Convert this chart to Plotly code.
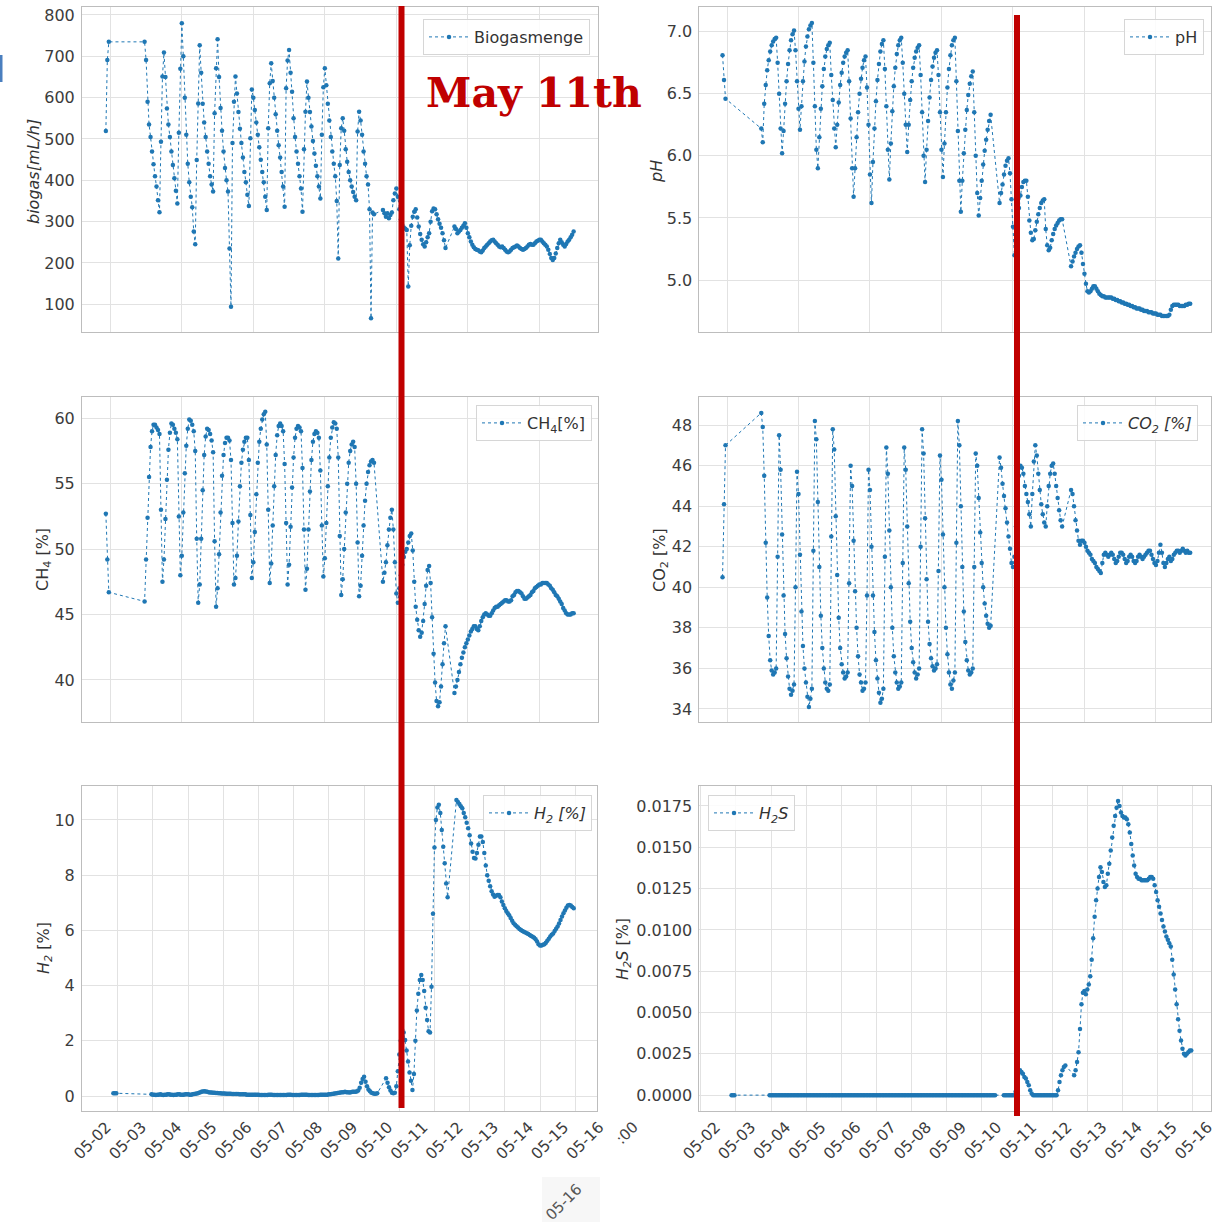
import pandas as pd
import plotly.graph_objects as go

# ---------------------------------------------------------------------------
# Hourly reactor log, first sample 2021-05-02 21:00 (None = no sample logged)
# ---------------------------------------------------------------------------
FIRST_SAMPLE = "2021-05-02 21:00"

biogas = (
    [519, 691, 735] + [None] * 23 +
    [735, 691, 590, 535, 505, 470, 439, 410, 385, 352, 323] +
    [493, 651, 709, 650, 574, 535, 505, 470, 437, 405, 375, 344] +
    [515, 670, 780, 700, 600, 510, 440, 395, 360, 335, 276, 245] +
    [449, 586, 727, 660, 585, 540, 505, 470, 440, 410, 390, 373] +
    [562, 671, 741, 650, 575, 520, 470, 430, 400, 373, 235, 94] +
    [490, 590, 651, 610, 565, 525, 490, 455, 420, 395, 365, 338] +
    [502, 620, 600, 570, 540, 510, 480, 450, 420, 395, 360, 328] +
    [526, 635, 683, 640, 600, 560, 520, 485, 455, 420, 385, 336] +
    [623, 690, 715, 660, 614, 550, 505, 470, 440, 410, 380, 324] +
    [475, 566, 639, 600, 565, 530, 495, 465, 435, 410, 385, 356] +
    [510, 625, 671, 630, 585, 545, 505, 470, 440, 410, 350, 211] +
    [437, 526, 550, 520, 475, 445, 420, 400, 385, 372, 360, 352] +
    [518, 566, 545, 510, 470, 440, 410, 390, 330, 66, 322, 318] +
    [None] * 5 +
    [328, 320, 312, 320, 308, 316, 322] +
    [352, 368, 380, 360, 330, 305, 292, 286, 283, 280, 143, 243, 290] +
    [312, 324, 330, 310, 288, 270, 256, 245, 240, 250,
     262, 272, 300, 325, 332, 330, 318, 306, 295, 285,
     272, 255, 236] +
    [None] * 5 +
    [288, 282, 272, 276, 280, 285, 290, 296, 285, 272,
     262, 252, 244, 238, 234, 232, 231] +
    [228, 226, 230, 236, 240, 244, 248, 252, 255, 256,
     252, 248, 244, 240, 238, 240, 236, 232, 228, 226,
     228, 232, 236, 238, 240, 242, 240, 236, 234, 232,
     234, 236, 240, 244, 246, 244, 244, 248, 252, 254,
     256, 256, 252, 248, 244, 240, 232, 222, 212, 207,
     212, 223, 236, 248, 256, 250, 244, 240, 246, 252,
     256, 262, 268, 276]
)

ph = (
    [6.81, 6.61, 6.46] + [None] * 23 +
    [6.22, 6.11, 6.42, 6.57, 6.69, 6.77, 6.84, 6.89, 6.92, 6.94, 6.95] +
    [6.75, 6.50, 6.22, 6.02, 6.20, 6.42, 6.60, 6.74, 6.85, 6.93, 6.98, 7.01] +
    [6.85, 6.60, 6.38, 6.21, 6.40, 6.60, 6.76, 6.88, 6.96, 7.02, 7.05, 7.07] +
    [6.75, 6.40, 6.05, 5.90, 6.15, 6.38, 6.56, 6.70, 6.80, 6.86, 6.89, 6.91] +
    [6.65, 6.45, 6.22, 6.07, 6.25, 6.43, 6.57, 6.67, 6.75, 6.80, 6.83, 6.85] +
    [6.60, 6.30, 5.90, 5.67, 5.90, 6.15, 6.35, 6.50, 6.62, 6.71, 6.77, 6.80] +
    [6.55, 6.25, 5.85, 5.62, 5.95, 6.22, 6.44, 6.61, 6.74, 6.84, 6.90, 6.93] +
    [6.70, 6.40, 6.05, 5.81, 6.10, 6.36, 6.56, 6.71, 6.82, 6.89, 6.93, 6.95] +
    [6.75, 6.50, 6.25, 6.03, 6.25, 6.45, 6.60, 6.71, 6.79, 6.84, 6.87, 6.89] +
    [6.65, 6.35, 6.00, 5.79, 6.05, 6.28, 6.47, 6.61, 6.72, 6.79, 6.83, 6.85] +
    [6.65, 6.35, 6.05, 5.83, 6.10, 6.35, 6.55, 6.70, 6.81, 6.89, 6.93, 6.95] +
    [6.60, 6.20, 5.80, 5.55, 5.80, 6.02, 6.21, 6.37, 6.49, 6.58, 6.64, 6.68] +
    [6.35, 6.00, 5.70, 5.52, 5.66, 5.80, 5.93, 6.04, 6.13, 6.21, 6.28, 6.33] +
    [None] * 5 +
    [5.62, 5.70, 5.77, 5.85, 5.92, 5.96, 5.98] +
    [5.86, 5.65, 5.43, 5.20] +
    [5.30, 5.45, 5.58, 5.68, 5.75, 5.79, 5.80] +
    [5.80, 5.67, 5.48, 5.38, 5.32, 5.33, 5.40, 5.47, 5.53, 5.58, 5.62, 5.64, 5.65] +
    [5.41, 5.28, 5.24, 5.26, 5.32, 5.37, 5.41, 5.44, 5.46, 5.48, 5.49, 5.49] +
    [None] * 5 +
    [5.11, 5.15, 5.19, 5.22, 5.25, 5.27, 5.28] +
    [5.22, 5.13, 5.05, 4.97, 4.91, 4.90, 4.91, 4.93, 4.95, 4.95,
     4.93, 4.91, 4.89, 4.88, 4.87, 4.87, 4.86, 4.86, 4.86, 4.86,
     4.86, 4.85, 4.85, 4.84, 4.84, 4.83, 4.83, 4.82, 4.82, 4.81,
     4.81, 4.80, 4.80, 4.79, 4.79, 4.78, 4.78, 4.77, 4.77, 4.77,
     4.76, 4.76, 4.75, 4.75, 4.75, 4.74, 4.74, 4.74, 4.73, 4.73,
     4.73, 4.72, 4.72, 4.72, 4.71, 4.71, 4.71, 4.71, 4.71, 4.72,
     4.76, 4.79, 4.80, 4.80, 4.80, 4.80, 4.79, 4.79, 4.79, 4.79,
     4.80, 4.80, 4.81, 4.81]
)

ch4 = (
    [52.7, 49.2, 46.7] + [None] * 23 +
    [46.0, 49.2, 52.4, 55.5, 57.8, 59.0, 59.5, 59.5, 59.3, 59.1, 58.8] +
    [53.0, 47.5, 49.2, 52.3, 55.3, 57.6, 58.9, 59.6, 59.5, 59.2, 58.9, 58.4] +
    [52.5, 48.0, 49.5, 52.8, 55.8, 57.9, 59.2, 59.9, 59.8, 59.5, 59.0, 57.5] +
    [50.8, 45.9, 47.3, 50.8, 54.5, 57.2, 58.6, 59.2, 59.1, 58.8, 58.3, 57.4] +
    [50.6, 45.6, 47.0, 49.6, 52.8, 55.6, 57.2, 58.1, 58.5, 58.5, 58.3, 56.8] +
    [52.0, 47.3, 47.8, 49.5, 52.1, 54.8, 56.6, 57.6, 58.2, 58.5, 58.5, 56.8] +
    [52.6, 47.8, 49.0, 51.3, 54.2, 56.6, 58.2, 59.2, 59.9, 60.3, 60.5, 58.0] +
    [53.0, 47.4, 48.9, 51.8, 54.8, 57.2, 58.7, 59.4, 59.6, 59.4, 59.0, 56.5] +
    [52.0, 47.3, 48.8, 51.7, 54.7, 57.0, 58.5, 59.2, 59.4, 59.3, 59.0, 56.2] +
    [51.5, 46.9, 48.5, 51.5, 54.4, 56.8, 58.2, 58.8, 59.0, 58.9, 58.5, 56.0] +
    [51.8, 47.9, 49.3, 52.0, 54.8, 57.0, 58.5, 59.3, 59.7, 59.6, 59.2, 57.0] +
    [51.0, 46.5, 47.7, 50.0, 52.8, 55.0, 56.6, 57.5, 58.0, 58.2, 57.8, 55.0] +
    [50.5, 46.4, 47.2, 49.5, 51.8, 53.7, 55.0, 55.9, 56.4, 56.7, 56.8, 56.6] +
    [None] * 5 +
    [47.5, 48.2, 49.0, 50.3, 51.5, 52.4, 53.0] +
    [51.5, 49.0, 46.6, 45.9] +
    [47.0, 48.0, 48.8, 49.4, 49.8, 50.0, 50.5, 51.0, 51.2] +
    [49.9, 47.5, 45.6, 44.6, 43.8, 43.3, 43.6, 44.5, 45.8, 47.2,
     48.4, 48.7, 47.4, 44.8, 42.0, 39.8, 38.4, 38.0, 38.3, 39.5,
     41.2, 42.8, 44.1] +
    [None] * 5 +
    [39.0, 39.5, 40.0, 40.6, 41.2, 41.7, 42.1, 42.5, 42.8, 43.1,
     43.4, 43.7, 43.9, 44.1, 44.1, 43.9, 43.8, 44.1, 44.5, 44.8,
     45.0, 45.1, 45.0, 44.9, 44.9, 45.1, 45.3, 45.5, 45.6, 45.6,
     45.7, 45.8, 45.9, 46.0, 46.1, 46.1, 46.0, 46.0, 46.1, 46.4,
     46.5, 46.7, 46.8, 46.8, 46.7, 46.6, 46.4, 46.2, 46.2, 46.3,
     46.4, 46.5, 46.7, 46.8, 47.0, 47.1, 47.2, 47.3, 47.3, 47.4,
     47.4, 47.4, 47.4, 47.3, 47.2, 47.0, 46.9, 46.7, 46.5, 46.4,
     46.2, 46.0, 45.8, 45.5, 45.3, 45.1, 45.0, 45.0, 45.0, 45.1,
     45.1]
)

co2 = (
    [40.5, 44.1, 47.0] + [None] * 23 +
    [48.6, 47.9, 45.5, 42.2, 39.5, 37.6, 36.4, 35.9, 35.7, 35.8, 36.0] +
    [41.5, 47.5, 45.8, 42.6, 39.6, 37.7, 36.5, 35.6, 35.0, 34.7, 34.9, 35.2] +
    [40.0, 45.7, 44.6, 41.6, 38.8, 37.1, 36.0, 35.3, 34.6, 34.1, 34.5, 35.0] +
    [41.8, 48.2, 47.3, 44.2, 41.0, 38.6, 37.0, 36.0, 35.3, 35.0, 34.9, 35.2] +
    [42.5, 47.8, 46.8, 43.5, 40.6, 38.5, 37.0, 36.2, 35.8, 35.5, 35.6, 35.8] +
    [40.2, 46.0, 45.0, 42.3, 39.8, 38.0, 36.6, 35.7, 35.3, 34.9, 35.0, 35.3] +
    [39.6, 45.8, 44.8, 42.0, 39.6, 37.8, 36.4, 35.5, 34.8, 34.3, 34.5, 35.0] +
    [41.5, 46.9, 45.6, 42.8, 40.0, 38.0, 36.6, 35.8, 35.3, 35.0, 35.1, 35.3] +
    [41.2, 46.9, 45.8, 43.0, 40.2, 38.3, 37.0, 36.3, 35.8, 35.5, 35.7, 36.0] +
    [42.0, 47.8, 46.6, 43.4, 40.4, 38.3, 37.2, 36.5, 36.1, 35.9, 36.0, 36.2] +
    [40.8, 46.5, 45.3, 42.6, 40.0, 38.0, 36.7, 35.8, 35.2, 35.0, 35.4, 35.8] +
    [42.2, 48.2, 47.0, 44.0, 41.0, 38.8, 37.3, 36.4, 35.9, 35.7, 35.8, 36.0] +
    [41.0, 46.6, 46.0, 44.4, 42.7, 41.2, 40.0, 39.2, 38.6, 38.2, 38.0, 38.1] +
    [None] * 5 +
    [46.4, 45.9, 45.1, 44.5, 43.9, 43.2, 42.5, 41.9, 41.2] +
    [41.0, 41.5, 43.0, 44.5, 45.5, 46.0, 45.9] +
    [45.6, 45.0, 44.6, 44.2, 43.6, 43.0, 44.6, 46.2, 47.0, 46.5,
     45.6, 44.8, 44.1, 43.6, 43.2, 43.0, 44.0, 45.0, 45.6, 46.0,
     46.1, 45.6, 45.0, 44.4, 43.8, 43.3, 43.0] +
    [None] * 5 +
    [44.8, 44.6, 44.0, 43.3, 42.8, 42.3, 42.1, 42.3, 42.3, 42.2,
     42.0, 41.8, 41.7, 41.6, 41.4, 41.3, 41.2, 41.0, 40.9, 40.8,
     40.7, 41.2, 41.6, 41.7, 41.6, 41.5, 41.6, 41.7, 41.6, 41.4,
     41.2, 41.3, 41.5, 41.7, 41.7, 41.6, 41.4, 41.2, 41.3, 41.5,
     41.6, 41.5, 41.3, 41.2, 41.3, 41.5, 41.6, 41.5, 41.4, 41.5,
     41.6, 41.7, 41.8, 41.8, 41.6, 41.4, 41.2, 41.1, 41.3, 41.7,
     42.1, 41.7, 41.2, 41.0, 41.2, 41.4, 41.5, 41.3, 41.4, 41.6,
     41.7, 41.8, 41.8, 41.7, 41.8, 41.9, 41.8, 41.7, 41.8, 41.7,
     41.7]
)

h2 = (
    [0.10, 0.10, 0.10] + [None] * 23 +
    [0.06, 0.05, 0.05, 0.04, 0.05, 0.05, 0.06, 0.05, 0.04, 0.05,
     0.05, 0.06, 0.06, 0.05, 0.05, 0.04, 0.05, 0.05, 0.06, 0.06,
     0.05, 0.05, 0.05, 0.06, 0.06, 0.06, 0.05, 0.05, 0.06, 0.07,
     0.08, 0.09, 0.11, 0.13, 0.15, 0.16, 0.17, 0.16, 0.15, 0.14,
     0.13, 0.13, 0.12, 0.12, 0.11, 0.11, 0.10, 0.10, 0.09, 0.09,
     0.09, 0.08, 0.08, 0.08, 0.08, 0.07, 0.07, 0.07, 0.07, 0.07,
     0.06, 0.06, 0.06, 0.06, 0.06, 0.05, 0.05, 0.05, 0.05, 0.05,
     0.05, 0.05, 0.05, 0.05, 0.04, 0.04, 0.04, 0.04, 0.04, 0.04,
     0.05, 0.05, 0.05, 0.04, 0.04, 0.04, 0.04, 0.04, 0.04, 0.04,
     0.04, 0.04, 0.04, 0.05, 0.05, 0.05, 0.04, 0.04, 0.04, 0.04,
     0.04, 0.04, 0.05, 0.05, 0.05, 0.05, 0.05, 0.04, 0.04, 0.04,
     0.04, 0.04, 0.04, 0.04, 0.04, 0.05, 0.05, 0.05, 0.05, 0.05,
     0.05, 0.06, 0.06, 0.07, 0.08, 0.09, 0.10, 0.11, 0.12, 0.13,
     0.14, 0.14, 0.15, 0.14, 0.14, 0.13, 0.14, 0.15, 0.15, 0.15,
     0.16, 0.20, 0.30, 0.48, 0.62, 0.70, 0.52, 0.35, 0.24, 0.17,
     0.12, 0.10, 0.08, 0.08, 0.10] +
    [None] * 5 +
    [0.64, 0.48, 0.32, 0.20, 0.12, 0.10, 0.12, 0.35, 0.90, 1.50,
     2.00, 2.40, 2.30, 2.03, 1.65, 1.25, 0.85, 0.55, 0.22] +
    [0.80, 2.00, 3.10, 3.70, 4.20, 4.38, 4.20, 3.80, 3.20, 2.75,
     2.35, 2.30, 3.96, 6.60, 9.00, 10.00, 10.45, 10.55, 10.25, 9.64,
     9.03, 8.43, 7.70, 7.20] +
    [None] * 5 +
    [10.72, 10.65, 10.58, 10.50, 10.42, 10.25, 10.10, 9.90, 9.70, 9.45,
     9.15, 8.85, 8.62, 8.60, 8.80, 9.10, 9.40, 9.40, 9.20, 8.80,
     8.35, 8.00, 7.80, 7.60, 7.42, 7.30, 7.22, 7.25, 7.28, 7.28,
     7.20, 7.05, 6.92, 6.80, 6.70, 6.62, 6.55, 6.45, 6.35, 6.26,
     6.20, 6.15, 6.10, 6.05, 6.01, 5.98, 5.95, 5.92, 5.90, 5.87,
     5.83, 5.80, 5.77, 5.73, 5.68, 5.60, 5.50, 5.45, 5.45, 5.48,
     5.50, 5.55, 5.62, 5.70, 5.78, 5.84, 5.89, 5.98, 6.06, 6.14,
     6.25, 6.38, 6.50, 6.62, 6.72, 6.82, 6.90, 6.92, 6.90, 6.85,
     6.80]
)

h2s = (
    [0.0, 0.0, 0.0] + [None] * 23 +
    [0.0] * 155 +
    [None] * 5 +
    [0.0] * 8 +
    [0.0002, 0.0008, 0.0013] +
    [0.0015, 0.0014, 0.0013, 0.0011, 0.0010, 0.0008, 0.0006, 0.0003, 0.0001] +
    [0.0] * 17 +
    [0.0003, 0.0008, 0.0012, 0.0015, 0.0017, 0.0018] +
    [None] * 5 +
    [0.0012, 0.0015, 0.0020, 0.0026, 0.0040, 0.0055, 0.0062, 0.0063, 0.0061, 0.0064,
     0.0067, 0.0072, 0.0082, 0.0095, 0.0108, 0.0118, 0.0125, 0.0132, 0.0138, 0.0135,
     0.0129, 0.0126, 0.0127, 0.0134, 0.0140, 0.0148, 0.0156, 0.0163, 0.0169, 0.0174,
     0.0178, 0.0175, 0.0171, 0.0169, 0.0168, 0.0168, 0.0167, 0.0164, 0.0159, 0.0152,
     0.0145, 0.0139, 0.0134, 0.0132, 0.0131, 0.0131, 0.0130, 0.0130, 0.0130, 0.0130,
     0.0130, 0.0131, 0.0132, 0.0132, 0.0131, 0.0127, 0.0123, 0.0118, 0.0114, 0.0110,
     0.0106, 0.0102, 0.0099, 0.0096, 0.0094, 0.0092, 0.0090, 0.0082, 0.0073, 0.0064,
     0.0055, 0.0046, 0.0039, 0.0033, 0.0028, 0.0025, 0.0024, 0.0025, 0.0026, 0.0027,
     0.0027]
)

series = [biogas, ph, ch4, co2, h2, h2s]
n = len(biogas)
assert all(len(s) == n for s in series), [len(s) for s in series]
times = pd.date_range(FIRST_SAMPLE, periods=n, freq="h")

legend_labels = ["Biogasmenge", "pH", "CH<sub>4</sub>[%]", "<i>CO<sub>2</sub> [%]</i>",
                 "<i>H<sub>2</sub> [%]</i>", "<i>H<sub>2</sub>S</i>"]
axis_titles = ["<i>biogas[mL/h]</i>", "<i>pH</i>", "CH<sub>4</sub> [%]", "CO<sub>2</sub> [%]",
               "<i>H<sub>2</sub></i> [%]", "<i>H<sub>2</sub>S</i> [%]"]
y_ranges = [[33.7, 818.6], [4.584, 7.196], [36.81, 61.6], [33.37, 49.37],
            [-0.543, 11.23], [-0.00096, 0.01871]]
y_dticks = [100, 0.5, 5, 2, 2, 0.0025]
y_formats = ["d", ".1f", "d", "d", "d", ".4f"]

# ---------------------------------------------------------------------------
W, H = 1212, 1222
BLUE = "#1f77b4"
GRID = "#e2e2e2"
SPINE = "#bdbdbd"
TICK = "#3c3c3c"
RED = "#C00000"
FONT = "DejaVu Sans"
DAY = pd.Timedelta(days=1)
ORIGIN = pd.Timestamp("2021-05-02")


def px_x(p):
    return p / W


def px_y(p):
    return 1 - p / H


def day(d):
    return ORIGIN + d * DAY


# pixel boxes of the six panels: (left, right, top, bottom)
boxes = [(82, 598, 7.3, 331.7), (699.4, 1211, 7.3, 331.7),
         (82, 598, 397.3, 721.7), (699.4, 1211, 397.3, 721.7),
         (82, 597, 786, 1111), (699.4, 1211, 786, 1111)]
x_ranges = [(0.208, 14.64), (0.228, 14.54), (0.208, 14.64), (0.228, 14.54),
            (-0.017, 14.62), (-0.04, 14.52)]

fig = go.Figure()
for k, vals in enumerate(series):
    sfx = "" if k == 0 else str(k + 1)
    fig.add_trace(go.Scatter(
        x=times, y=vals, mode="lines+markers", name=legend_labels[k],
        connectgaps=True, xaxis="x" + sfx, yaxis="y" + sfx, legend="legend" + sfx,
        showlegend=True,
        line=dict(color=BLUE, width=1, dash="dot"),
        marker=dict(color=BLUE, size=4.5),
    ))

layout = dict(
    width=W, height=H, autosize=False, template="none", showlegend=True,
    margin=dict(l=0, r=0, t=0, b=0, pad=0),
    paper_bgcolor="white", plot_bgcolor="white",
    font=dict(family=FONT, color=TICK, size=16),
)

for k in range(6):
    sfx = "" if k == 0 else str(k + 1)
    l, r, t, b = boxes[k]
    bottom_row = k >= 4
    xa = dict(
        type="date", domain=[px_x(l), px_x(r)], anchor="y" + sfx,
        range=[day(x_ranges[k][0]), day(x_ranges[k][1])],
        showgrid=True, gridcolor=GRID, gridwidth=1,
        showline=True, linecolor=SPINE, linewidth=1, mirror=True,
        zeroline=False, ticks="",
    )
    if bottom_row:
        xa.update(tick0="2021-05-02", dtick=86400000, tickformat="%m-%d",
                  tickangle=-45, showticklabels=True, ticklabeloverflow="allow",
                  tickfont=dict(family=FONT, size=15.5, color=TICK),
                  ticklabelshift=24 if k == 4 else 15, ticklabelstandoff=0)
    else:
        xa.update(tick0="2021-05-03", dtick=2 * 86400000, showticklabels=False)
    ya = dict(
        domain=[px_y(b), px_y(t)], anchor="x" + sfx, range=y_ranges[k],
        tick0=0, dtick=y_dticks[k], tickformat=y_formats[k],
        showgrid=True, gridcolor=GRID, gridwidth=1,
        showline=True, linecolor=SPINE, linewidth=1, mirror=True,
        zeroline=False, ticks="", ticklabelstandoff=3,
        tickfont=dict(family=FONT, size=16, color=TICK),
    )
    layout["xaxis" + sfx] = xa
    layout["yaxis" + sfx] = ya

# one framed legend per panel
legend_pos = [(590, 19, "right"), (1204, 19, "right"), (592, 405, "right"),
              (1077, 405, "left"), (592, 795, "right"), (708, 795, "left")]
for k, (lx, ly, anchor) in enumerate(legend_pos):
    sfx = "" if k == 0 else str(k + 1)
    layout["legend" + sfx] = dict(
        x=px_x(lx), y=px_y(ly), xanchor=anchor, yanchor="top",
        xref="paper", yref="paper", visible=True,
        bgcolor="rgba(255,255,255,0.85)", bordercolor="#d6d6d6", borderwidth=1,
        font=dict(family=FONT, size=16, color="#333333"), itemwidth=40,
    )

fig.update_layout(**layout)

# rotated y-axis titles
title_pos = [(33, 172), (656, 172), (43, 560), (660, 560), (44, 948), (623, 949)]
for k, (tx, ty) in enumerate(title_pos):
    fig.add_annotation(text=axis_titles[k], x=px_x(tx), y=px_y(ty),
                       xref="paper", yref="paper", showarrow=False, textangle=-90,
                       xanchor="center", yanchor="middle",
                       font=dict(family=FONT, size=16, color="#333333"))

# date marker
fig.add_annotation(text="<b>May 11th</b>", x=px_x(424), y=px_y(93),
                   xref="paper", yref="paper", showarrow=False,
                   xanchor="left", yanchor="middle",
                   font=dict(family="DejaVu Serif", size=41, color=RED))
fig.add_shape(type="line", xref="paper", yref="paper",
              x0=px_x(401.5), x1=px_x(401.5), y0=px_y(6), y1=px_y(1108),
              line=dict(color=RED, width=6))
fig.add_shape(type="line", xref="paper", yref="paper",
              x0=px_x(1017), x1=px_x(1017), y0=px_y(15), y1=px_y(1116),
              line=dict(color=RED, width=6))

# leftover fragments along the edges of the composite
fig.add_shape(type="rect", xref="paper", yref="paper",
              x0=0, x1=px_x(2.5), y0=px_y(82), y1=px_y(55),
              fillcolor="#4a7fbf", line=dict(width=0))
fig.add_shape(type="rect", xref="paper", yref="paper", layer="below",
              x0=px_x(542), x1=px_x(600), y0=px_y(1222), y1=px_y(1177),
              fillcolor="#f7f7f7", line=dict(width=0))
fig.add_annotation(text="05-16", x=px_x(564), y=px_y(1202), xref="paper", yref="paper",
                   showarrow=False, textangle=-45, xanchor="center", yanchor="middle",
                   font=dict(family=FONT, size=15, color="#555555"))
fig.add_annotation(text=":00", x=px_x(627), y=px_y(1133), xref="paper", yref="paper",
                   showarrow=False, textangle=-45, xanchor="center", yanchor="middle",
                   font=dict(family=FONT, size=15, color="#444444"))

fig.write_html("out.html")
